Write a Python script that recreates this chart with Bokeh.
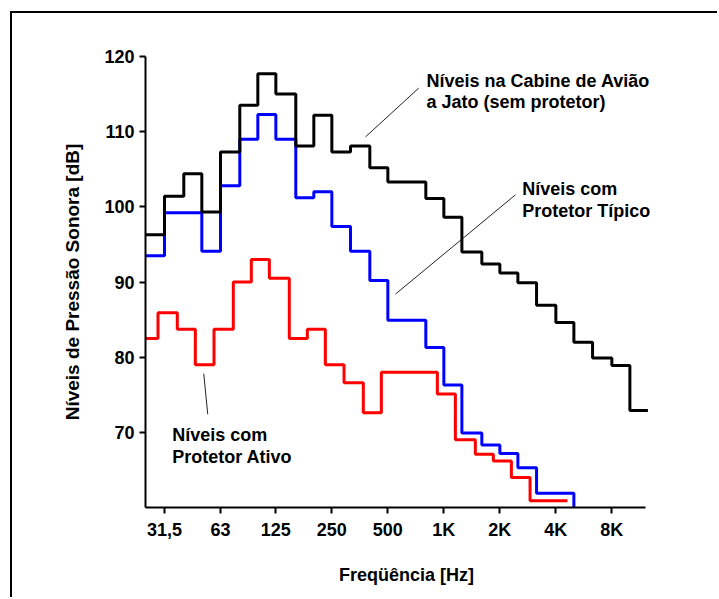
import numpy as np
from bokeh.plotting import figure
from bokeh.models import FixedTicker, Label, Range1d, ColumnDataSource
from bokeh.transform import dodge
from bokeh.embed import file_html
from bokeh.resources import INLINE

# ---------------- data ----------------
# 1/3-octave band frequencies (Hz); each level is held from its band to the next one
band_freqs = [25, 31.5, 40, 50, 63, 80, 100, 125, 160, 200, 250, 315, 400, 500,
              630, 800, 1000, 1250, 1600, 2000, 2500, 3150, 4000, 5000, 6300,
              8000, 10000, 12500]

# Níveis na Cabine de Avião a Jato (sem protetor) [dB], bands 25 Hz .. 10 kHz
cabin_levels = [96.3, 101.4, 104.4, 99.3, 107.3, 113.5, 117.7, 115.0, 108.1, 112.2,
                107.3, 108.1, 105.2, 103.3, 103.3, 101.1, 98.6, 94.0, 92.4, 91.2,
                89.9, 86.9, 84.6, 82.0, 79.9, 78.9, 72.9]

# Níveis com Protetor Típico [dB], bands 25 Hz .. 4 kHz (drops to axis floor at 5 kHz)
typical_levels = [93.5, 99.2, 99.2, 94.1, 102.8, 109.0, 112.3, 109.0, 101.2, 102.0,
                  97.4, 94.1, 90.2, 84.9, 84.9, 81.3, 76.3, 69.9, 68.3, 67.2,
                  65.3, 61.9, 61.9]
typical_end = 60.0

# Níveis com Protetor Ativo [dB], bands 25 Hz .. 4 kHz
active_levels = [82.5, 85.9, 83.7, 79.0, 83.7, 90.0, 93.0, 90.5, 82.5, 83.7,
                 79.0, 76.6, 72.6, 78.0, 78.0, 78.0, 75.1, 69.0, 67.1, 66.2,
                 64.0, 60.9, 60.9]

x_tick_freqs = [31.5, 63, 125, 250, 500, 1000, 2000, 4000, 8000]
x_tick_labels = ["31,5", "63", "125", "250", "500", "1K", "2K", "4K", "8K"]
y_ticks = [70, 80, 90, 100, 110, 120]

FONT = "Liberation Sans"

X_START, X_AXIS_END = 4.638, 13.567   # log2(Hz) limits of the drawn x axis


def step_source(levels, end_level):
    n = len(levels)
    xs = np.log2(np.array(band_freqs[:n + 1], dtype=float))
    ys = list(levels) + [end_level]
    return ColumnDataSource(dict(x=xs, y=ys))


W, H = 707, 586
FRAME_W = 522
p = figure(width=W, height=H, output_backend="svg", toolbar_location=None,
           x_range=Range1d(X_START, X_START + FRAME_W / 56.0), y_range=Range1d(60, 120),
           min_border_left=133, min_border_right=W - 133 - FRAME_W, min_border_top=43,
           min_border_bottom=92, background_fill_color="white",
           border_fill_color="white",
           styles={"margin-left": "10px", "margin-top": "11px",
                   "border-left": "2px solid black", "border-top": "2px solid black"})

p.xgrid.visible = False
p.ygrid.visible = False
p.outline_line_color = None

tick_pos = [float(np.log2(f)) for f in x_tick_freqs]
p.xaxis.ticker = FixedTicker(ticks=tick_pos)
p.xaxis.major_label_overrides = {t: l for t, l in zip(tick_pos, x_tick_labels)}
p.xaxis.bounds = (X_START, X_AXIS_END)
p.yaxis.ticker = FixedTicker(ticks=y_ticks)

for ax in (p.xaxis[0], p.yaxis[0]):
    ax.axis_line_width = 2
    ax.axis_line_color = "black"
    ax.major_tick_line_width = 2
    ax.major_tick_line_color = "black"
    ax.major_tick_out = 6
    ax.major_tick_in = 0
    ax.minor_tick_out = 0
    ax.minor_tick_in = 0
    ax.major_label_text_font = FONT
    ax.major_label_text_font_size = "18px"
    ax.major_label_text_font_style = "bold"
    ax.major_label_text_color = "black"
    ax.axis_label_text_font = FONT
    ax.axis_label_text_font_style = "bold"
    ax.axis_label_text_color = "black"

p.xaxis.axis_label = "Freqüência [Hz]"
p.yaxis.axis_label = "Níveis de Pressão Sonora [dB]"
p.xaxis.axis_label_text_font_size = "18px"
p.yaxis.axis_label_text_font_size = "19px"
p.xaxis.major_label_standoff = 6
p.yaxis.major_label_standoff = 5
p.xaxis.axis_label_standoff = 22
p.yaxis.axis_label_standoff = 18

# leader lines (annotation layout, in Hz / dB)
lead_x0 = np.log2([379, 550, 51.2])
lead_y0 = [109.3, 88.4, 77.8]
lead_x1 = np.log2([733, 2427, 53.8])
lead_y1 = [115.8, 101.6, 72.4]
p.segment(x0=lead_x0, y0=lead_y0, x1=lead_x1, y1=lead_y1,
          line_color="#222222", line_width=1)

# series
p.step(x=dodge("x", -0.116), y="y", source=step_source(active_levels, active_levels[-1]),
       mode="after", line_color="#ff0000", line_width=3)
p.step(x="x", y="y", source=step_source(typical_levels, typical_end),
       mode="after", line_color="#0000ff", line_width=3)
p.step(x="x", y="y", source=step_source(cabin_levels, cabin_levels[-1]),
       mode="after", line_color="#000000", line_width=3)

# text annotations
labels = [
    ("Níveis na Cabine de Avião", 9.656, 116.8),
    ("a Jato (sem protetor)", 9.656, 114.0),
    ("Níveis com", 11.365, 102.4),
    ("Protetor Típico", 11.365, 99.5),
    ("Níveis com", 5.115, 69.6),
    ("Protetor Ativo", 5.115, 66.7),
]
for txt, lx, ly in labels:
    p.add_layout(Label(x=lx, y=ly, text=txt, text_font=FONT, text_font_size="18px",
                       text_font_style="bold", text_color="black",
                       text_baseline="alphabetic", text_align="left"))

open("out.html", "w").write(file_html(p, INLINE))
